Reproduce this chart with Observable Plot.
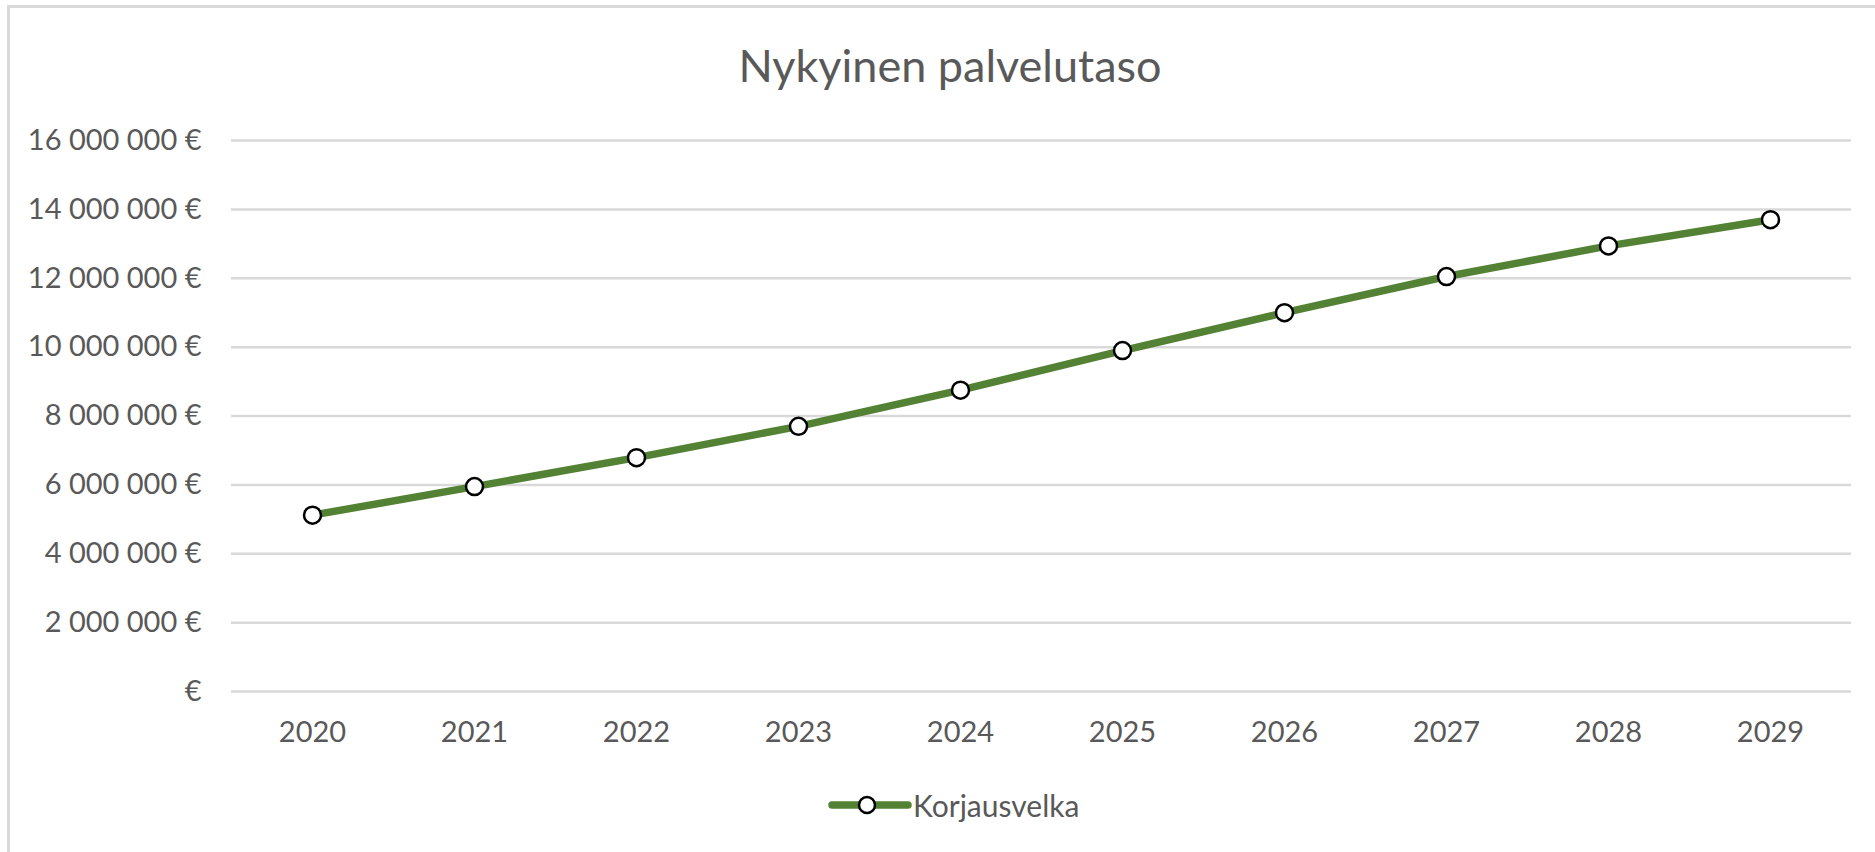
<!DOCTYPE html>
<html>
<head>
<meta charset="utf-8">
<script src="https://cdn.jsdelivr.net/npm/d3@7"></script>
<script src="https://cdn.jsdelivr.net/npm/@observablehq/plot@0.6"></script>
<style>
  html, body { margin: 0; padding: 0; background: #fff; }
  #wrap { position: relative; width: 1875px; height: 852px; overflow: hidden; background: #fff; font-family: Lato, "Open Sans", sans-serif; color: #595959; }
  #borderTop { position: absolute; left: 7px; top: 5px; width: 1868px; height: 3px; background: #d9d9d9; }
  #borderLeft { position: absolute; left: 7px; top: 5px; width: 3px; height: 847px; background: #d9d9d9; }
  #title { position: absolute; left: 0; top: 43px; width: 1900px; text-align: center; font-size: 45px; line-height: 45px; color: #595959; }
  #chart { position: absolute; left: 0; top: 100px; }
  #legend { position: absolute; left: 826px; top: 785px; height: 40px; display: flex; align-items: center; font-size: 30px; color: #595959; }
  #legend svg { display: block; }
</style>
</head>
<body>
<div id="wrap">
  <div id="borderTop"></div>
  <div id="borderLeft"></div>
  <div id="title">Nykyinen palvelutaso</div>
  <div id="chart"></div>
  <div id="legend"></div>
</div>
<script>
const seriesName = "Korjausvelka";
const years = ["2020", "2021", "2022", "2023", "2024", "2025", "2026", "2027", "2028", "2029"];
const values = [5120000, 5950000, 6790000, 7700000, 8750000, 9900000, 11000000, 12050000, 12940000, 13700000];
const yTicks = [0, 2000000, 4000000, 6000000, 8000000, 10000000, 12000000, 14000000, 16000000];
const yTickLabels = ["€", "2 000 000 €", "4 000 000 €", "6 000 000 €", "8 000 000 €", "10 000 000 €", "12 000 000 €", "14 000 000 €", "16 000 000 €"];

const data = years.map((year, i) => ({year, value: values[i]}));
const green = "#548235";

const plot = Plot.plot({
  width: 1875,
  height: 680,
  marginLeft: 231,
  marginRight: 24,
  marginTop: 40,
  marginBottom: 89,
  style: {fontFamily: "Lato, 'Open Sans', sans-serif", fontSize: "29px", color: "#595959", background: "transparent"},
  x: {type: "point", domain: years, padding: 0.5},
  y: {domain: [0, 16000000]},
  marks: [
    Plot.ruleY(yTicks, {stroke: "#d9d9d9", strokeWidth: 2.5, strokeOpacity: 1}),
    Plot.axisY(yTicks, {tickSize: 0, tickPadding: 30, tickFormat: (d) => yTickLabels[yTicks.indexOf(d)], fill: "#595959", label: null}),
    Plot.axisX({tickSize: 0, tickPadding: 30, fill: "#595959", label: null}),
    Plot.line(data, {x: "year", y: "value", stroke: green, strokeWidth: 7.5, strokeLinecap: "round", strokeLinejoin: "round"}),
    Plot.dot(data, {x: "year", y: "value", r: 8.5, fill: "white", stroke: "black", strokeWidth: 2.5})
  ]
});
document.getElementById("chart").appendChild(plot);

const legend = document.getElementById("legend");
legend.innerHTML = `<svg width="86" height="40"><line x1="6" y1="20" x2="82" y2="20" stroke="${green}" stroke-width="7.5" stroke-linecap="round"/><circle cx="41" cy="20" r="8" fill="white" stroke="black" stroke-width="2.5"/></svg><span style="margin-left:1px">${seriesName}</span>`;
</script>
</body>
</html>
